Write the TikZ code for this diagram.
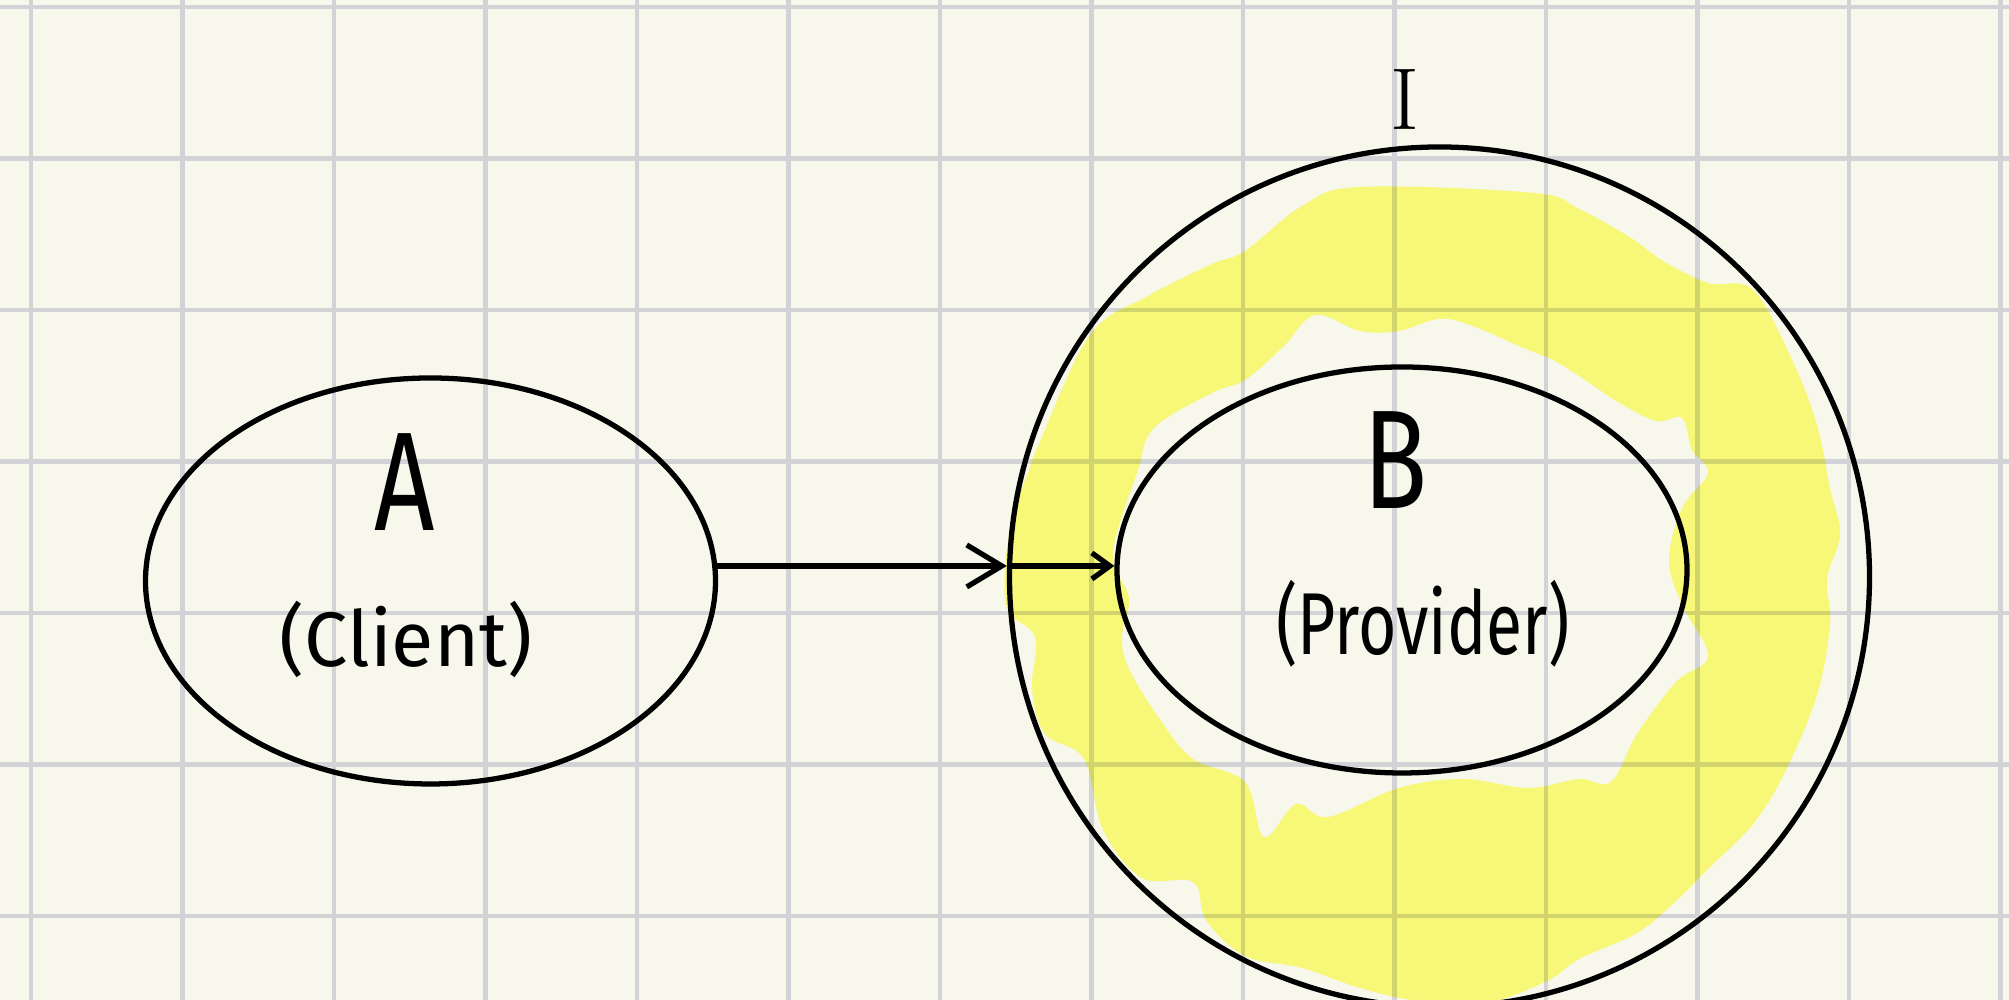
\documentclass[tikz,border=0pt]{standalone}
\usepackage{fontspec}
\usetikzlibrary{arrows.meta,positioning,shapes.geometric}
\newfontfamily\handfont{Fira Sans}
\newfontfamily\handnarrow{Fira Sans}[FakeStretch=0.75]
\definecolor{paper}{RGB}{248,247,235}
\definecolor{gridgray}{RGB}{210,211,214}
\definecolor{marker}{RGB}{254,255,131}

\begin{document}
\begin{tikzpicture}[>={Straight Barb[length=3.5mm,width=4.2mm]},
  gridline/.style={gridgray, line width=1.3pt},
  bubble/.style={draw, ellipse, line width=1.5pt, minimum width=5.7cm, minimum height=4.06cm, inner sep=0pt},
  ring/.style={draw, circle, line width=1.5pt, minimum size=8.6cm, inner sep=0pt},
  big/.style={font=\handnarrow\fontsize{40}{40}\selectfont, inner sep=0pt},
  small/.style={font=\handfont\fontsize{22}{22}\selectfont, inner sep=0pt},
  link/.style={->, line width=1.5pt}]
\useasboundingbox (0,0) rectangle (20.09,10);
\clip (0,0) rectangle (20.09,10);
\fill[paper] (0,0) rectangle (20.09,10);
% grid paper
\foreach \i in {0,...,13} {\draw[gridline] (0.31+1.515*\i,0) -- ++(0,10);}
\foreach \j in {0,...,6} {\draw[gridline] (0,9.93-1.515*\j) -- ++(20.09,0);}
% highlighter ring
\begin{scope}[blend mode=multiply]
\fill[marker, even odd rule]
  plot[smooth cycle, tension=0.6] coordinates {
    (13.60,8.13) (15.34,8.07) (15.79,7.91) (16.31,7.62) (16.63,7.39) (17.08,7.17)
    (17.53,7.10) (17.92,6.40) (18.17,5.75) (18.30,5.11) (18.40,4.66) (18.27,4.21)
    (18.30,3.76) (18.17,3.05) (17.85,2.28) (17.53,1.76) (17.08,1.31) (16.76,0.99)
    (16.37,0.67) (15.79,0.41) (15.47,0.19) (14.83,-0.04) (14.18,-0.01) (13.60,0.12)
    (13.02,0.32) (12.45,0.44) (12.06,0.80) (11.93,1.18) (11.42,1.22) (11.03,1.70)
    (10.84,2.41) (10.45,2.66) (10.32,3.11) (10.35,3.63) (10.06,3.95) (10.10,4.72)
    (10.29,5.30) (10.39,5.56) (10.90,6.65) (11.48,7.04) (12.12,7.36) (12.45,7.49)
    (13.02,7.94)}
  plot[smooth cycle, tension=0.6] coordinates {
    (13.15,6.85) (13.60,6.69) (13.99,6.69) (14.38,6.81) (14.70,6.75) (15.21,6.53)
    (15.53,6.40) (15.79,6.24) (16.18,5.98) (16.56,5.79) (16.82,5.82) (16.92,5.50)
    (17.08,5.27) (16.82,4.92) (16.69,4.40) (16.82,3.95) (17.08,3.44) (16.76,3.18)
    (16.37,2.66) (16.11,2.18) (15.79,2.21) (15.28,2.12) (14.63,2.21) (13.99,2.12)
    (13.28,1.83) (12.96,1.96) (12.64,1.63) (12.45,2.18) (11.93,2.41) (11.61,2.79)
    (11.29,3.31) (11.22,3.63) (11.29,4.02) (11.13,4.47) (11.38,5.30) (11.54,5.72)
    (12.12,6.07) (12.45,6.20) (12.83,6.53)};
\end{scope}
% client and provider
\node[bubble] (A) at (4.305,4.19) {};
\node[bubble] (B) at (14.02,4.30) {};
\node[ring] (I) at (14.395,4.23) {};
\node[big] (Aname) at (4.05,5.18) {A};
\node[small] (Arole) at (4.06,3.61) {(Client)};
\node[big] (Bname) at (13.96,5.40) {B};
\node[small, font=\handnarrow\fontsize{25}{25}\selectfont] (Brole) at (14.23,3.76) {(Provider)};
\node[font=\fontsize{25}{25}\selectfont, inner sep=0pt] (Iname) at (14.05,9.00) {I};
% arrows
\draw[link] (A.3) -- (A.3 -| I.west);
\draw[link, >={Straight Barb[length=1.8mm,width=2.6mm]}] (A.3 -| I.west) -- (A.3 -| B.west);
\end{tikzpicture}
\end{document}
